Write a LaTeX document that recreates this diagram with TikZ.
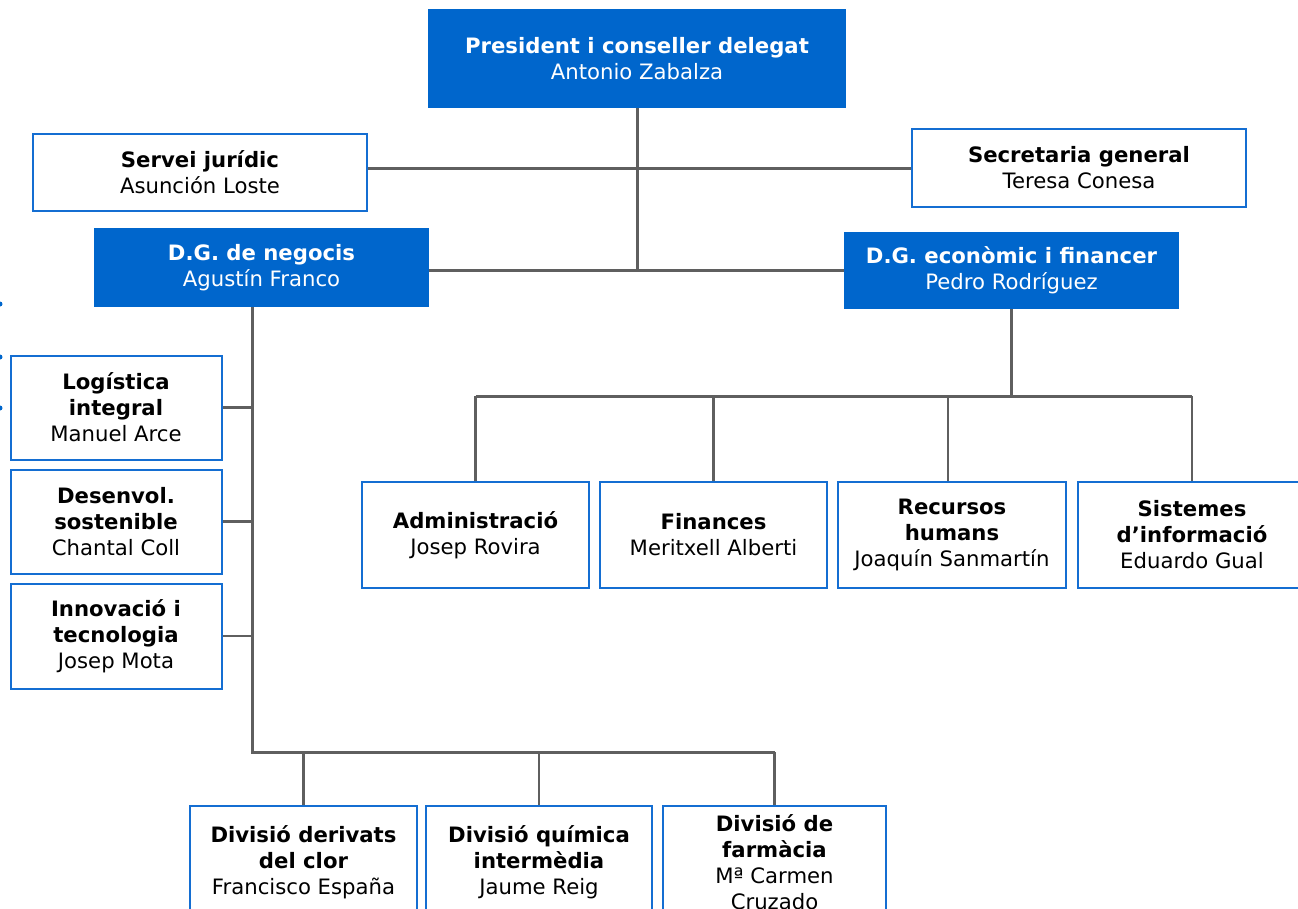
\documentclass[tikz,border=0pt]{standalone}
\usepackage{fontspec}
\setmainfont{DejaVu Sans}
\definecolor{cblue}{RGB}{0,102,204}
\definecolor{cedge}{RGB}{20,110,210}
\definecolor{cline}{RGB}{95,95,95}
\begin{document}
\begin{tikzpicture}[x=1pt,y=-1pt,
  base/.style={rectangle,inner sep=0pt,align=center,font=\fontsize{21.2}{26}\selectfont},
  fbox/.style={base,fill=cblue,text=white},
  wbox/.style={base,draw=cedge,line width=2pt,fill=white,text=black},
  conn/.style={draw=cline,line width=3pt},
  thin/.style={draw=cline,line width=2.4pt}]
\useasboundingbox (0,0) rectangle (1298,908);
\clip (0,0) rectangle (1298,908);
% top
\node[fbox,minimum width=418pt,minimum height=99pt] (pres) at (637,58.5) {\textbf{President i conseller delegat}\\Antonio Zabalza};
\node[wbox,minimum width=334pt,minimum height=77pt] (sj) at (200,172.5) {\textbf{Servei jurídic}\\Asunción Loste};
\node[wbox,minimum width=334pt,minimum height=78pt] (sg) at (1079,168) {\textbf{Secretaria general}\\Teresa Conesa};
\node[fbox,minimum width=335pt,minimum height=79pt] (dgn) at (261.5,267.5) {\textbf{D.G. de negocis}\\Agustín Franco};
\node[fbox,minimum width=335pt,minimum height=77pt] (dge) at (1011.5,270.5) {\textbf{D.G. econòmic i financer}\\Pedro Rodríguez};
% left column
\node[wbox,minimum width=211pt,minimum height=104pt] (lg) at (116,407.5) {\textbf{Logística}\\\textbf{integral}\\Manuel Arce};
\node[wbox,minimum width=211pt,minimum height=104pt] (ds) at (116,521.5) {\textbf{Desenvol.}\\\textbf{sostenible}\\Chantal Coll};
\node[wbox,minimum width=211pt,minimum height=105pt] (it) at (116,636) {\textbf{Innovació i}\\\textbf{tecnologia}\\Josep Mota};
% right row
\node[wbox,minimum width=227pt,minimum height=106pt] (adm) at (475.5,535) {\textbf{Administració}\\Josep Rovira};
\node[wbox,minimum width=227pt,minimum height=106pt] (fin) at (713.5,535) {\textbf{Finances}\\Meritxell Alberti};
\node[wbox,minimum width=228pt,minimum height=106pt] (rh) at (952,535) {\textbf{Recursos}\\\textbf{humans}\\Joaquín Sanmartín};
\node[wbox,minimum width=228pt,minimum height=106pt] (si) at (1192,535) {\textbf{Sistemes}\\\textbf{d’informació}\\Eduardo Gual};
% bottom row
\node[wbox,minimum width=227pt,minimum height=112pt] (d1) at (303.5,862) {\textbf{Divisió derivats}\\\textbf{del clor}\\Francisco España};
\node[wbox,minimum width=226pt,minimum height=112pt] (d2) at (539,862) {\textbf{Divisió química}\\\textbf{intermèdia}\\Jaume Reig};
\node[wbox,minimum width=223pt,minimum height=112pt] (d3) at (774.5,862) {\textbf{Divisió de}\\\textbf{farmàcia}\\Mª Carmen\\Cruzado};
% connectors top
\coordinate (jc) at (637,271);
\draw[conn] (pres.south) -- (pres.south |- jc);
\draw[conn] (sj.east |- sg.west) -- (sg.west);
\draw[conn] (dgn.east |- dge.west) -- (dge.west);
% left branch
\coordinate (bl) at (252,752);
\draw[conn] (dgn.south -| bl) -- (bl) -- (bl -| d3.north);
\draw[thin] (lg.east) -- (lg.east -| bl);
\draw[thin] (ds.east) -- (ds.east -| bl);
\draw[thin] (it.east) -- (it.east -| bl);
\draw[thin] (d1.north) -- (d1.north |- bl);
\draw[thin] (d2.north) -- (d2.north |- bl);
\draw[thin] (d3.north) -- (d3.north |- bl);
% right branch
\coordinate (br) at (1012,396);
\draw[conn] (dge.south) -- (dge.south |- br);
\draw[conn] (adm.north |- br) -- (si.north |- br);
\draw[thin] (adm.north) -- (adm.north |- br);
\draw[thin] (fin.north) -- (fin.north |- br);
\draw[thin] ([xshift=-4pt]rh.north) -- ([xshift=-4pt]rh.north |- br);
\draw[thin] (si.north) -- (si.north |- br);
% stray marks at left edge
\fill[cblue] (0,304) circle (2.5pt);
\fill[cblue] (0,357) circle (2.5pt);
\fill[cblue] (0,408) circle (2.5pt);
\end{tikzpicture}
\end{document}
